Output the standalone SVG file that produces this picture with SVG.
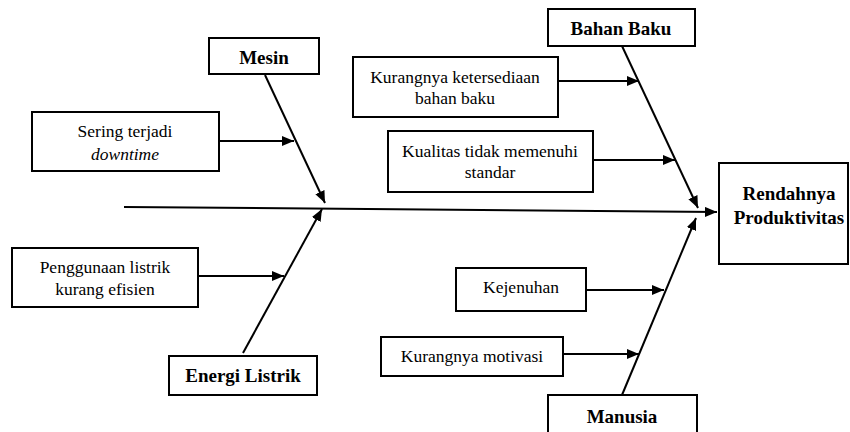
<svg xmlns="http://www.w3.org/2000/svg" width="850" height="432" viewBox="0 0 850 432">
<style>
.box{fill:#fff;stroke:#000;stroke-width:2}
.t{font-size:17.5px;fill:#000;text-anchor:middle}
.b{font-size:19px;font-weight:bold;fill:#000;text-anchor:middle}
.ln{stroke:#000;stroke-width:2;fill:none;marker-end:url(#ah)}
</style>
<defs>
<marker id="ah" markerWidth="12" markerHeight="10" refX="12" refY="5" orient="auto" markerUnits="userSpaceOnUse">
<path d="M0,0 L12,5 L0,10 Z" fill="#000"/>
</marker>
</defs>
<rect width="850" height="432" fill="#fff"/>
<g id="connectors">
<line class="ln" x1="124" y1="207" x2="717" y2="212"/>
<line class="ln" x1="265" y1="75" x2="325" y2="203"/>
<line class="ln" x1="243" y1="353" x2="322" y2="209"/>
<line class="ln" x1="622" y1="46" x2="698" y2="208"/>
<line class="ln" x1="622" y1="395" x2="696" y2="218"/>
<line class="ln" x1="219" y1="141" x2="294" y2="141"/>
<line class="ln" x1="198" y1="276" x2="284" y2="276"/>
<line class="ln" x1="558" y1="81" x2="639" y2="81"/>
<line class="ln" x1="593" y1="160" x2="675" y2="160"/>
<line class="ln" x1="586" y1="290" x2="664" y2="290"/>
<line class="ln" x1="563" y1="354" x2="639" y2="354"/>
</g>
<g font-family="Liberation Serif, Times New Roman, serif">
<g id="mesin"><rect class="box" x="209" y="38" width="110" height="36"/><text class="b" x="264" y="64">Mesin</text></g>
<g id="bahan-baku"><rect class="box" x="548" y="9" width="147" height="37"/><text class="b" x="621" y="35">Bahan Baku</text></g>
<g id="energi-listrik"><rect class="box" x="169" y="356" width="148" height="39"/><text class="b" x="243" y="382">Energi Listrik</text></g>
<g id="manusia"><rect class="box" x="548" y="395" width="149" height="45"/><text class="b" x="622" y="423">Manusia</text></g>
<g id="rendahnya"><rect class="box" x="719" y="163" width="129" height="101"/><text class="b" x="789" y="200">Rendahnya</text><text class="b" x="789" y="224">Produktivitas</text></g>
<g id="sering"><rect class="box" x="32" y="112" width="187" height="59"/><text class="t" x="125" y="137">Sering terjadi</text><text class="t" x="125" y="160" font-style="italic">downtime</text></g>
<g id="penggunaan"><rect class="box" x="12" y="248" width="186" height="59"/><text class="t" x="105" y="273">Penggunaan listrik</text><text class="t" x="105" y="295">kurang efisien</text></g>
<g id="kurangnya-ketersediaan"><rect class="box" x="353" y="57" width="205" height="60"/><text class="t" x="455" y="83">Kurangnya ketersediaan</text><text class="t" x="455" y="104">bahan baku</text></g>
<g id="kualitas"><rect class="box" x="388" y="131" width="205" height="61"/><text class="t" x="490" y="157">Kualitas tidak memenuhi</text><text class="t" x="490" y="178">standar</text></g>
<g id="kejenuhan"><rect class="box" x="456" y="268" width="130" height="43"/><text class="t" x="521" y="293">Kejenuhan</text></g>
<g id="motivasi"><rect class="box" x="381" y="337" width="182" height="39"/><text class="t" x="472" y="362">Kurangnya motivasi</text></g>
</g>
</svg>
